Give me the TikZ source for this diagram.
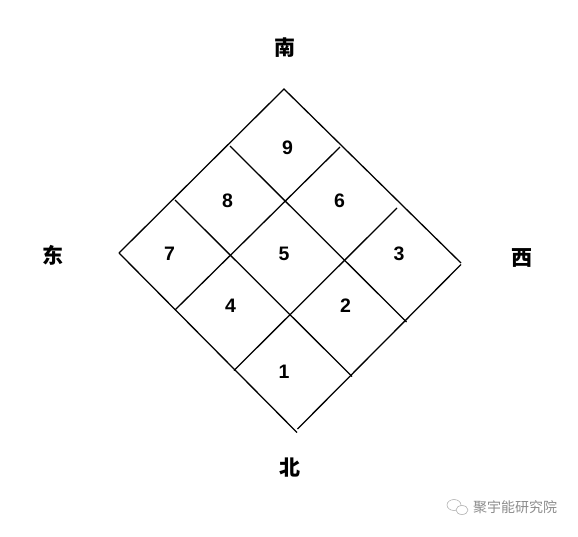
\documentclass[tikz,border=0pt]{standalone}
\usepackage{fontspec}
\setmainfont{Liberation Sans}
\newfontfamily\cjk{Noto Sans CJK SC}
\begin{document}
\begin{tikzpicture}[x=1pt,y=-1pt,
  gridline/.style={line width=1.3pt,black},
  num/.style={font=\fontsize{19.5}{19.5}\selectfont\bfseries,inner sep=0pt},
  dir/.style={font=\cjk\fontsize{21}{21}\selectfont\bfseries,inner sep=0pt},
  wm/.style={font=\cjk\fontsize{14}{14}\selectfont,text=black!45,inner sep=0pt}]
\useasboundingbox (0,0) rectangle (578,536);
% outer corners
\coordinate (L) at (119,253);
\coordinate (T) at (284,89);
\coordinate (R) at (461,263);
\coordinate (R2) at (461,264.5);
\coordinate (B) at (297,432.5);
\coordinate (B2) at (297.5,429);
% inner line ends
\coordinate (e1) at (230,146);
\coordinate (e2) at (406.5,322);
\coordinate (f1) at (175,200);
\coordinate (f2) at (352,376.5);
\coordinate (g1) at (340,147);
\coordinate (g2) at (175,310);
\coordinate (h1) at (397,208);
\coordinate (h2) at (234,370.5);
% outer
\draw[gridline] (L) -- (T) -- (R);
\draw[gridline] (R2) -- (B2);
\draw[gridline] (L) -- (B);
% inner
\draw[gridline] (e1) -- (e2);
\draw[gridline] (f1) -- (f2);
\draw[gridline] (g1) -- (g2);
\draw[gridline] (h1) -- (h2);
% numbers
\node[num] (n9) at (287.5,147.5) {9};
\node[num] (n8) at (227.5,201) {8};
\node[num] (n6) at (339.5,201) {6};
\node[num] (n7) at (169.5,254) {7};
\node[num] (n5) at (284,254) {5};
\node[num] (n3) at (399,254) {3};
\node[num] (n4) at (230.5,306) {4};
\node[num] (n2) at (345.5,306) {2};
\node[num] (n1) at (284,372) {1};
% directions
\node[dir] (s) at (285,48) {南};
\node[dir] (e) at (53,255) {东};
\node[dir] (w) at (522,258) {西};
\node[dir] (n) at (290,468) {北};
% watermark
\node[wm,anchor=west] (wmt) at (473,507) {聚宇能研究院};
\draw[black!30,line width=0.6pt] (454,505) ellipse (7 and 5.5);
\draw[black!30,line width=0.6pt,fill=white] (462,510) ellipse (6 and 4.5);
\end{tikzpicture}
\end{document}
